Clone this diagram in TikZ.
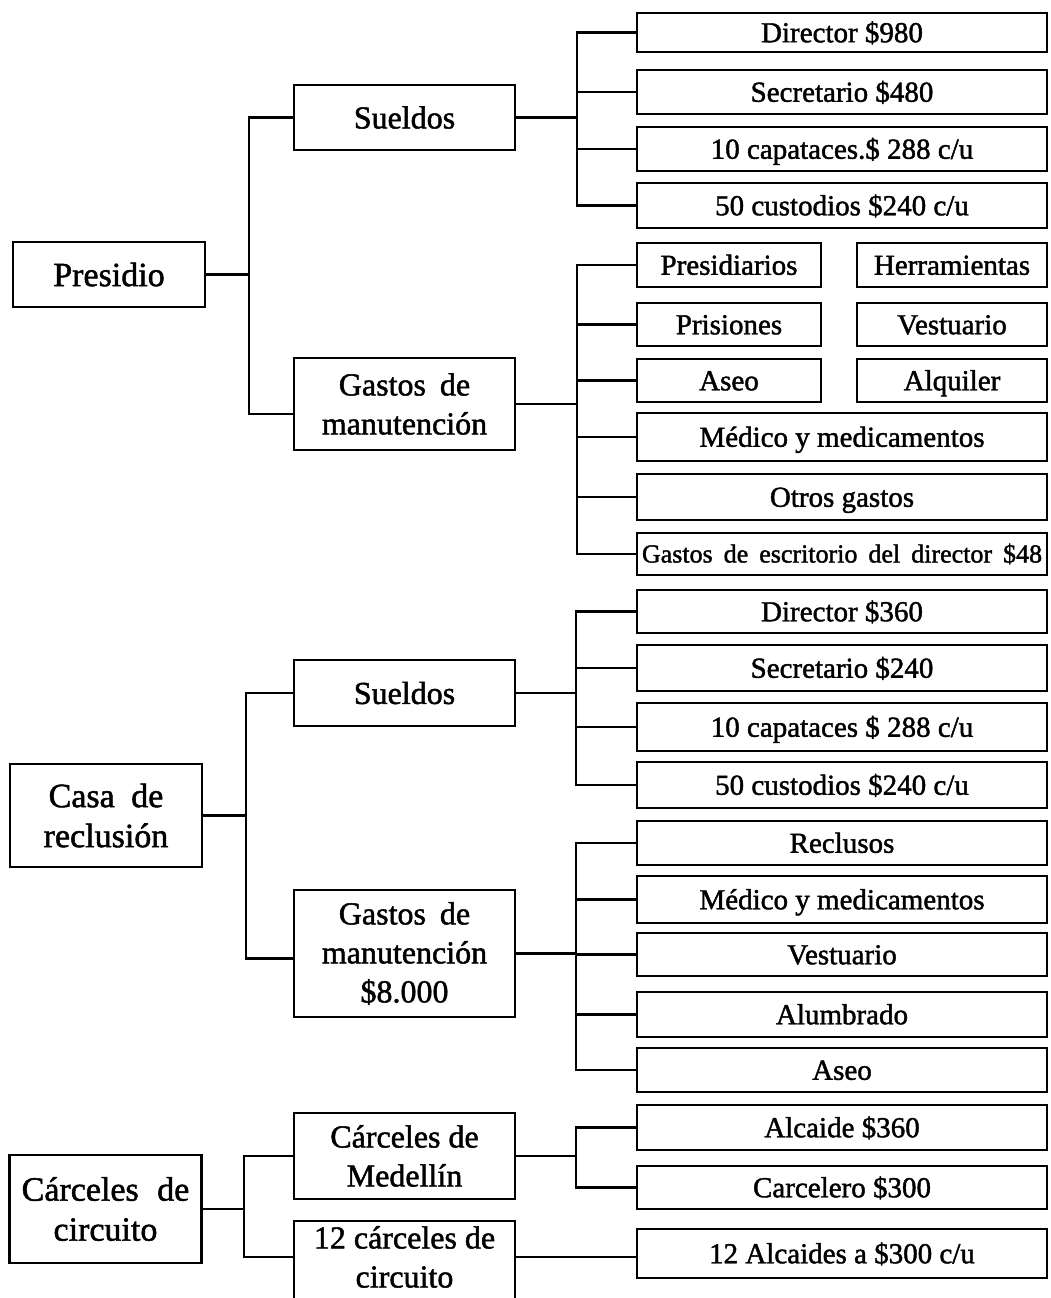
\documentclass[tikz,border=0pt]{standalone}
\usepackage{fontspec}
\setmainfont{Liberation Serif}[FakeBold=1.5]
\newcommand\fR{\fontsize{29}{36}\selectfont}
\newcommand\fM{\fontsize{32}{39}\selectfont}
\newcommand\fL{\fontsize{34}{40}\selectfont}
\tikzset{
  box/.style={draw, line width=2.4pt, inner sep=0pt, align=center},
  rbox/.style={box, font=\fR, minimum width=410pt, text height=19.5pt, text depth=0pt},
  sbox/.style={box, font=\fR, text height=19.5pt, text depth=0pt},
  mbox/.style={box, font=\fM, minimum width=221pt},
  lbox/.style={box, font=\fL, minimum width=192pt},
  link/.style={line width=2.4pt},
}
\begin{document}
\begin{tikzpicture}[x=1pt, y=-1pt]
\useasboundingbox (0,0) rectangle (1050,1298);
\clip (0,0) rectangle (1050,1298);

% bus coordinates
\coordinate (pb) at (249,0);
\coordinate (cb) at (246,0);
\coordinate (kb) at (244,0);
\coordinate (ra) at (577,0);
\coordinate (rb) at (577,0);
\coordinate (rc) at (576,0);
\coordinate (rd) at (576,0);
\coordinate (re) at (576,0);

% level 1
\node[lbox, minimum height=65pt] (pres) at (109,274.5) {Presidio};
\node[lbox, minimum height=103pt] (casa) at (106,815.5) {Casa\hspace{8pt} de\\reclusión};
\node[lbox, minimum height=108pt] (circ) at (105.5,1209) {Cárceles\hspace{10pt} de\\circuito};

% level 2
\node[mbox, minimum height=65pt] (sue1) at (404.5,117.5) {Sueldos};
\node[mbox, minimum height=92pt] (gm1) at (404.5,404) {Gastos\hspace{6pt} de\\manutención};
\node[mbox, minimum height=66pt] (sue2) at (404.5,693) {Sueldos};
\node[mbox, minimum height=127pt] (gm2) at (404.5,953.5) {Gastos\hspace{6pt} de\\manutención\\\$8.000};
\node[mbox, minimum height=86pt] (med) at (404.5,1156) {Cárceles de\\Medellín};
\node[box, minimum width=221pt, minimum height=130pt, anchor=north] (doce) at (404.5,1220) {};
\node[font=\fM, align=center, inner sep=0pt] (docet) at (404.5,1257) {12 cárceles de\\circuito};

% level 3 - Presidio sueldos
\node[rbox, minimum height=39pt] (d1) at (842,32.5) {Director \$980};
\node[rbox, minimum height=44pt] (s1) at (842,92) {Secretario \$480};
\node[rbox, minimum height=44pt] (c1) at (842,149) {10 capataces.\$ 288 c/u};
\node[rbox, minimum height=45pt] (u1) at (842,205.5) {50 custodios \$240 c/u};

% Presidio gastos
\node[sbox, minimum width=184pt, minimum height=44pt] (pr) at (729,265) {Presidiarios};
\node[sbox, minimum width=190pt, minimum height=44pt] (he) at (952,265) {Herramientas};
\node[sbox, minimum width=184pt, minimum height=43pt] (pi) at (729,324.5) {Prisiones};
\node[sbox, minimum width=190pt, minimum height=43pt] (ve) at (952,324.5) {Vestuario};
\node[sbox, minimum width=184pt, minimum height=43pt] (as) at (729,380.5) {Aseo};
\node[sbox, minimum width=190pt, minimum height=43pt] (al) at (952,380.5) {Alquiler};
\node[rbox, minimum height=48pt] (mm1) at (842,437) {Médico y medicamentos};
\node[rbox, minimum height=46pt] (og) at (842,497) {Otros gastos};
\node[rbox, minimum height=42pt, text height=17pt, font={\fontsize{26}{30}\selectfont\spaceskip=11pt}] (es) at (842,554) {Gastos de escritorio del director \$48};

% Casa sueldos
\node[rbox, minimum height=43pt] (d2) at (842,611.5) {Director \$360};
\node[rbox, minimum height=46pt] (s2) at (842,668) {Secretario \$240};
\node[rbox, minimum height=48pt] (c2) at (842,727) {10 capataces \$ 288 c/u};
\node[rbox, minimum height=46pt] (u2) at (842,785) {50 custodios \$240 c/u};

% Casa gastos
\node[rbox, minimum height=44pt] (rc2) at (842,843) {Reclusos};
\node[rbox, minimum height=47pt] (mm2) at (842,899.5) {Médico y medicamentos};
\node[rbox, minimum height=43pt] (ve2) at (842,954.5) {Vestuario};
\node[rbox, minimum height=45pt] (alu) at (842,1014.5) {Alumbrado};
\node[rbox, minimum height=44pt] (as2) at (842,1070) {Aseo};

% Carceles
\node[rbox, minimum height=45pt] (alc) at (842,1127.5) {Alcaide \$360};
\node[rbox, minimum height=43pt] (car) at (842,1187.5) {Carcelero \$300};
\node[rbox, minimum height=49pt] (a12) at (842,1253.5) {12 Alcaides a \$300 c/u};

% helper coordinates
\coordinate (gm1L) at ([yshift=-10pt]gm1.west);
\coordinate (gm2L) at ([yshift=-5pt]gm2.west);

% level 1 -> level 2
\draw[link] (pres.east) -- (pres.east -| pb);
\draw[link] (sue1.west) -- (sue1.west -| pb) -- (gm1L -| pb) -- (gm1L);
\draw[link] (casa.east) -- (casa.east -| cb);
\draw[link] (sue2.west) -- (sue2.west -| cb) -- (gm2L -| cb) -- (gm2L);
\draw[link] (circ.east) -- (circ.east -| kb);
\draw[link] (med.west) -- (med.west -| kb) -- (docet -| kb) -- (docet -| doce.west);

% level 2 -> level 3
\draw[link] (sue1.east) -- (sue1.east -| ra);
\draw[link] (d1.west) -- (d1.west -| ra) -- (u1.west -| ra) -- (u1.west);
\foreach \n in {s1,c1} \draw[link] (\n.west) -- (\n.west -| ra);

\draw[link] (gm1.east) -- (gm1.east -| rb);
\draw[link] (pr.west) -- (pr.west -| rb) -- (es.west -| rb) -- (es.west);
\foreach \n in {pi,as,mm1,og} \draw[link] (\n.west) -- (\n.west -| rb);

\draw[link] (sue2.east) -- (sue2.east -| rc);
\draw[link] (d2.west) -- (d2.west -| rc) -- (u2.west -| rc) -- (u2.west);
\foreach \n in {s2,c2} \draw[link] (\n.west) -- (\n.west -| rc);

\draw[link] (gm2.east) -- (gm2.east -| rd);
\draw[link] (rc2.west) -- (rc2.west -| rd) -- (as2.west -| rd) -- (as2.west);
\foreach \n in {mm2,ve2,alu} \draw[link] (\n.west) -- (\n.west -| rd);

\draw[link] (med.east) -- (med.east -| re);
\draw[link] (alc.west) -- (alc.west -| re) -- (car.west -| re) -- (car.west);

\draw[link] (docet -| doce.east) -- (docet -| a12.west);
\end{tikzpicture}
\end{document}
